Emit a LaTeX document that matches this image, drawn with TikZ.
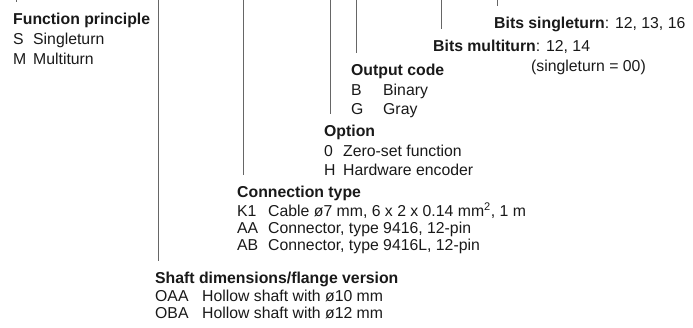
\documentclass[tikz,border=0pt]{standalone}
\usepackage{fontspec}
\setmainfont{Liberation Sans}
\begin{document}
\begin{tikzpicture}[x=1pt,y=-1pt,
  every node/.style={inner sep=0pt,anchor=base west,text=black!90,font=\fontsize{15.8pt}{18pt}\selectfont},
  head/.style={font=\fontsize{15.8pt}{18pt}\selectfont\bfseries},
  lead/.style={draw=black!60,line width=0.8pt}]
\useasboundingbox (0,0) rectangle (693,327);
% headings and items
\node[head] (fp) at (13,24) {Function principle};
\node (fp1) at (13,44) {\makebox[20pt][l]{S}Singleturn};
\node (fp2) at (13,64) {\makebox[20pt][l]{M}Multiturn};

\node (bs) at (494,28) {\textbf{Bits singleturn}: 12, 13, 16};
\node (bm) at (433,51) {\textbf{Bits multiturn}: 12, 14};
\node (bm1) at (531,71) {(singleturn = 00)};

\node[head] (oc) at (351,75) {Output code};
\node (oc1) at (351,95) {\makebox[32pt][l]{B}Binary};
\node (oc2) at (351,114) {\makebox[32pt][l]{G}Gray};

\node[head] (op) at (324,136) {Option};
\node (op1) at (324,156) {\makebox[19pt][l]{0}Zero-set function};
\node (op2) at (324,175) {\makebox[19pt][l]{H}Hardware encoder};

\node[head] (ct) at (237,197) {Connection type};
\node (ct1) at (237,216) {\makebox[31pt][l]{K1}Cable ø7 mm, 6 x 2 x 0.14 mm\textsuperscript{2}, 1 m};
\node (ct2) at (237,233) {\makebox[31pt][l]{AA}Connector, type 9416, 12-pin};
\node (ct3) at (237,250) {\makebox[31pt][l]{AB}Connector, type 9416L, 12-pin};

\node[head] (sd) at (155,283) {Shaft dimensions/flange version};
\node (sd1) at (155,301) {\makebox[47pt][l]{OAA}Hollow shaft with ø10 mm};
\node (sd2) at (155,318) {\makebox[47pt][l]{OBA}Hollow shaft with ø12 mm};

% leader lines
\coordinate (tfp) at (16,0);
\coordinate (tsd) at (158,0);
\coordinate (tct) at (243,0);
\coordinate (top) at (330,0);
\coordinate (toc) at (356,0);
\coordinate (tbm) at (441.5,0);
\coordinate (tbs) at (497,0);
\draw[lead] (tfp) -- ([yshift=10pt]tfp |- fp.north);
\draw[lead] (tsd) -- ([yshift=10pt]tsd |- sd.north);
\draw[lead] (tct) -- ([yshift=10pt]tct |- ct.north);
\draw[lead] (top) -- ([yshift=10pt]top |- op.north);
\draw[lead] (toc) -- ([yshift=10pt]toc |- oc.north);
\draw[lead] (tbm) -- ([yshift=10pt]tbm |- bm.north);
\draw[lead] (tbs) -- ([yshift=10pt]tbs |- bs.north);
\end{tikzpicture}
\end{document}
